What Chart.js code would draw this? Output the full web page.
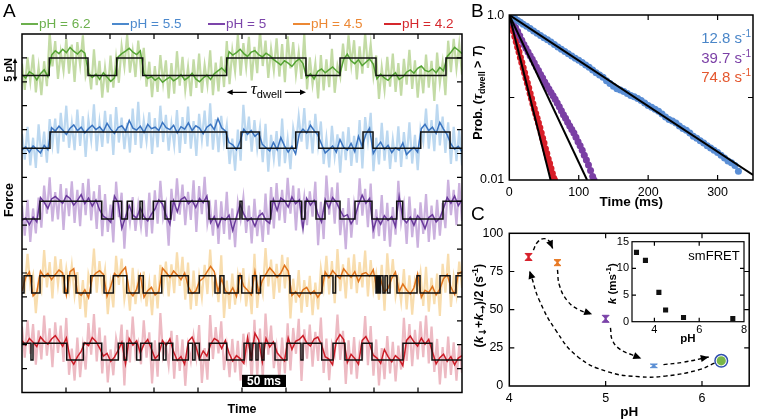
<!DOCTYPE html>
<html>
<head>
<meta charset="utf-8">
<script src="https://cdn.jsdelivr.net/npm/chart.js@4.4.1/dist/chart.umd.min.js"></script>
<style>
  body { margin: 0; background: #fff; }
  #wrap { position: relative; width: 757px; height: 419px; overflow: hidden; }
  canvas { position: absolute; }
  .tickLabel { position: absolute; font: 12.5px 'Liberation Sans', Arial, sans-serif; color: #000; text-align: right; line-height: 14px; }
</style>
</head>
<body>
<div id="wrap">
  <canvas id="chartA" width="470" height="419" style="left:0;top:0"></canvas>
  <canvas id="chartB" width="287" height="210" style="left:470px;top:0"></canvas>
  <canvas id="chartC" width="287" height="214" style="left:470px;top:205px"></canvas>
  <canvas id="chartInset" width="157" height="114" style="left:600px;top:232px"></canvas>
  <div id="bTopLabel" class="tickLabel" style="left:470px;top:9px;width:34px"></div>
</div>
<script>
// ---------- panel A: force traces ----------
const phLabels = ["pH = 6.2", "pH = 5.5", "pH = 5", "pH = 4.5", "pH = 4.2"];
const lowLevels = [66.3, 51.1, 36.3, 20.8, 6.8];   // pN
const highLevels = [70, 54.5, 40, 24.4, 10.3];     // pN
const startHigh = [false, false, false, false, true];

// switch times of the fitted two-state trace (ms)
const greenSwitch = [31.0, 75.0, 107.6, 137.2, 232.6, 322.7, 361.4, 402.3, 481.8];
const blueSwitch = [31.8, 232.6, 248.9, 269.9, 311.1, 337.3, 387.5, 398.9, 453.1, 486.4];
const purpleSwitch = [20.5, 90.6, 103.8, 113.3, 119.7, 125.3, 134.1, 136.7, 149.2, 162.5, 169.0, 212.5, 247.7, 250.0,
  282.6, 317.8, 321.6, 334.1, 344.3, 361.4, 378.4, 397.7, 425.8, 432.6, 478.4];
const orangeSwitch = [2.3, 11.0, 20.5, 48.1, 52.0, 61.4, 78.1, 93.2, 103.8, 119.0, 133.0, 137.8, 158.8, 189.0, 201.5,
  219.3, 225.0, 229.5, 245.8, 249.7, 262.0, 266.5, 271.0, 304.5, 340.9, 353.4, 356.3, 402.3, 404.0, 405.7, 407.4,
  410.2, 412.5, 415.3, 418.2, 426.1, 448.9, 452.3, 475.0, 486.4, 493.2];
const redSwitch = [10.2, 12.5, 50.8, 69.7, 90.6, 109.4, 115.9, 119.0, 130.3, 134.9, 147.4, 156.0, 160.6, 163.6, 171.3,
  189.0, 194.0, 196.6, 201.5, 212.8, 232.6, 252.3, 259.1, 261.4, 265.9, 268.2, 272.7, 275.0, 287.5, 301.1, 317.0,
  319.3, 340.6, 353.4, 367.0, 386.4, 397.7, 432.9, 465.9];

// raw (light) traces, deviation from the fitted level, 0.1 pN
const greenRaw = [25,-30,38,-12,44,-35,18,-41,30,-22,52,-18,35,-44,12,-27,40,-33,28,-50,
  33,-15,47,-38,21,-29,55,-20,31,-46,16,-35,42,-25,37,-52,24,-18,49,-31,
  14,-40,36,-27,58,-23,29,-45,20,-34,43,-16,32,-48,26,-38,51,-21,39,-30,
  18,-43,34,-26,46,-36,22,-19,53,-41,27,-33,40,-24,35,-55,15,-28,48,-37,
  31,-20,44,-47,23,-32,57,-17,36,-42,19,-26,41,-39,29,-51,45,-22,33,-35,
  12,-44,50,-29,38,-18,25,-48,43,-31,34,-24,56,-36,21,-40,30,-27,47,-15,
  37,-45,24,-33,52,-21,28,-38,42,-49,17,-30,39,-23,46,-34,26,-42,35,-19,
  54,-28,32,-46,20,-37,44,-25,31,-53,48,-16,27,-41,36,-30,40,-22,29,-35];
const blueRaw = [30,-24,45,-36,22,-41,50,-18,35,-30,61,-27,28,-45,40,-20,55,-33,18,-38,
  47,-29,33,-52,26,-17,58,-40,21,-31,44,-24,37,-48,52,-22,30,-36,19,-43,
  49,-27,63,-34,24,-19,41,-46,29,-32,55,-21,36,-39,17,-28,46,-44,31,-25,
  53,-35,23,-50,38,-16,45,-30,60,-37,27,-42,34,-23,48,-33,20,-47,39,-26,
  57,-18,32,-41,25,-35,43,-29,51,-49,28,-22,36,-38,62,-31,19,-44,42,-27,
  33,-20,50,-36,24,-45,38,-28,56,-33,21,-40,47,-17,29,-51,35,-25,44,-37,
  26,-30,59,-42,31,-19,40,-48,22,-34,53,-26,37,-43,18,-29,46,-39,34,-23,
  54,-32,28,-46,41,-21,49,-35,25,-40,58,-28,32,-44,20,-33,45,-27,38,-36];
const purpleRaw = [28,-35,40,-48,22,-30,45,-55,33,-26,50,-42,19,-38,36,-60,27,-31,42,-45,
  24,-52,38,-29,47,-40,21,-58,34,-36,52,-27,30,-49,41,-33,18,-62,37,-44,
  46,-25,29,-53,39,-37,55,-30,23,-47,43,-34,31,-56,26,-41,48,-28,35,-50,
  20,-39,44,-64,32,-27,51,-46,25,-35,40,-52,37,-31,57,-43,22,-59,34,-38,
  45,-29,28,-51,42,-36,19,-48,53,-33,30,-57,38,-40,24,-45,49,-26,33,-61,
  27,-37,46,-50,21,-32,41,-55,36,-42,54,-28,29,-47,39,-34,23,-63,44,-39,
  31,-49,48,-30,26,-54,37,-41,20,-36,50,-46,34,-58,25,-33,43,-44,30,-52,
  47,-38,22,-60,35,-31,52,-48,28,-43,40,-35,33,-56,45,-29,24,-50,38,-41];
const orangeRaw = [33,-27,46,-20,38,-42,25,-31,54,-24,29,-47,41,-18,35,-36,50,-29,22,-40,
  44,-33,27,-51,39,-22,57,-35,31,-26,48,-44,20,-30,42,-19,36,-49,26,-37,
  53,-23,34,-41,45,-28,21,-46,38,-32,59,-25,30,-43,24,-36,49,-21,40,-50,
  28,-34,47,-27,35,-45,23,-38,55,-30,32,-19,43,-52,26,-33,41,-24,37,-40,
  52,-28,21,-44,46,-31,29,-37,58,-22,34,-48,25,-35,44,-26,39,-53,30,-20,
  48,-41,27,-29,36,-46,22,-34,51,-25,42,-39,31,-21,56,-32,24,-47,38,-28,
  45,-36,29,-24,53,-43,33,-30,40,-50,23,-37,47,-26,35,-42,28,-18,50,-34,
  37,-45,26,-31,43,-27,55,-39,32,-23,41,-48,25,-35,46,-29,34,-40,30,-25];
const redRaw = [35,-30,48,-22,40,-45,27,-34,58,-26,31,-50,44,-20,37,-39,53,-31,24,-43,
  47,-36,29,-55,42,-24,61,-38,33,-28,51,-47,22,-32,45,-21,39,-53,28,-40,
  56,-25,36,-44,48,-30,23,-49,41,-35,63,-27,32,-46,26,-39,52,-23,43,-54,
  30,-37,50,-29,38,-48,25,-41,59,-33,34,-21,46,-56,28,-36,44,-26,40,-43,
  55,-31,23,-47,49,-34,31,-40,62,-24,37,-52,27,-38,47,-28,42,-57,32,-22,
  51,-44,29,-32,39,-49,24,-37,54,-27,45,-42,33,-23,60,-35,26,-50,41,-30,
  48,-39,31,-26,57,-46,36,-33,43,-53,25,-40,50,-28,38,-45,30,-20,53,-37,
  40,-48,28,-34,46,-29,58,-42,35,-25,44,-51,27,-38,49,-31,37,-43,32,-27];

// smoothed (dark) traces, deviation from the fitted level, 0.1 pN
const greenSmooth = [2,-5,8,3,-9,4,12,-2,6,15,9,18,11,22,14,8,16,10,5,-4,
  3,-8,6,-3,-12,-5,2,9,14,20,12,7,15,4,-6,-2,-10,-4,-14,-8,
  -3,-11,-6,2,-9,-4,5,-7,-13,-5,1,-8,4,10,16,8,13,6,11,18,
  9,3,12,15,7,2,10,5,-3,-9,-15,-6,-11,-18,-8,-2,-12,-5,4,-7,
  9,14,6,12,18,10,4,-3,8,-6,-12,-4,-16,-9,-2,-13,-7,3,-5,-10,
  -1,6,-8,-3,7,12,5,15,20,11,8,14,6,17,10,3,12,22,16,9];
const blueSmooth = [-4,3,-8,5,-2,-10,6,-3,9,2,12,4,-5,8,15,3,10,-2,7,14,
  5,11,1,18,6,-3,9,13,2,24,8,4,12,-1,16,7,10,3,20,9,
  5,14,-2,11,6,19,3,13,8,-4,10,16,5,28,9,2,12,7,-3,15,
  6,-5,3,-9,-2,8,1,-6,12,-3,22,5,-8,4,-12,-4,6,-2,14,3,
  -6,9,-10,-3,5,-8,18,2,-4,10,-7,25,4,-5,8,-11,3,13,-2,6,
  -9,1,-4,11,-13,-5,2,-8,7,16,3,10,-3,20,6,-6,9,-2,4,-7];
const purpleSmooth = [-3,2,-12,4,-6,8,-2,-15,5,10,3,-4,12,6,-8,2,14,-5,7,-10,
  3,-18,6,1,-7,11,-3,-20,4,-9,8,2,-14,5,-4,10,-16,3,-6,7,
  -11,1,-22,4,9,-5,2,-13,6,-3,11,-8,5,-17,3,-2,8,-24,4,-7,
  10,-4,2,-15,6,12,-3,-9,4,-19,7,1,-12,9,-5,3,-21,6,-8,2,
  11,-6,4,-14,8,-2,-18,5,9,-10,3,-7,13,-4,6,-23,2,-11,7,-3,
  5,-16,10,1,-8,4,-13,7,-2,-20,3,9,-6,2,-15,8,-4,11,-9,3];
const orangeSmooth = [4,-3,8,-6,2,10,-2,5,-8,3,12,6,-4,9,15,2,-5,7,-10,-3,
  6,11,3,-7,14,5,-2,9,18,4,-6,8,1,-9,5,12,-4,3,16,7,
  -3,10,2,-8,6,13,-1,4,-11,-5,8,20,9,3,-6,5,-2,11,-7,2,
  14,6,-4,9,1,-10,4,17,8,-3,6,22,10,-5,3,-8,7,12,-2,5,
  -9,3,8,-4,11,2,-6,15,5,-3,9,-12,4,7,-1,13,6,-7,2,10,
  -5,8,3,19,7,-2,11,4,-9,6,1,14,-4,8,-6,3,12,-3,5,9];
const redSmooth = [6,-4,10,2,-7,13,4,-2,9,16,5,-6,11,3,-9,7,18,1,-5,12,
  4,-10,8,14,-3,6,20,2,-8,10,-4,5,15,-2,8,-12,3,11,6,-5,
  9,17,-1,7,-9,4,13,-6,2,19,8,-3,10,5,-11,6,14,-2,9,3,
  -7,12,5,21,7,-4,10,-8,3,15,6,-2,11,-13,4,8,16,1,-6,9,
  13,-3,7,2,-10,5,18,8,-5,12,3,-9,6,14,-1,10,4,-7,22,7,
  -4,9,2,-12,6,15,3,-6,11,-2,8,17,-8,5,12,-3,7,-10,4,9];

const switchTimes = [greenSwitch, blueSwitch, purpleSwitch, orangeSwitch, redSwitch];
const rawTraces = [greenRaw, blueRaw, purpleRaw, orangeRaw, redRaw];
const smoothTraces = [greenSmooth, blueSmooth, purpleSmooth, orangeSmooth, redSmooth];
const timeTicksA = [50, 100, 150, 200, 250, 300, 350, 400, 450];
const forceTicksA = [5, 10, 15, 20, 25, 30, 35, 40, 45, 50, 55, 60, 65, 70];

// ---------- panel B: dwell-time survival ----------
const bBlueT = [0,4,8,12,16,20,25,30,35,40,45,50,55,60,65,70,75,80,85,90,95,100,105,110,115,120,125,130,135,140,
  145,150,155,160,165,170,175,180,185,190,195,200,205,210,215,220,225,230,235,240,245,250,255,260,265,270,275,280,
  285,290,295,300,305,310,315,320,325,330];
const bBlueP = [1.0,0.955,0.905,0.86,0.815,0.775,0.73,0.685,0.64,0.60,0.565,0.53,0.50,0.47,0.44,0.41,0.385,0.36,0.34,
  0.318,0.30,0.282,0.265,0.248,0.232,0.216,0.20,0.188,0.176,0.16,0.148,0.137,0.128,0.123,0.118,0.112,0.106,0.102,
  0.097,0.092,0.086,0.080,0.076,0.072,0.068,0.063,0.058,0.054,0.052,0.049,0.045,0.042,0.040,0.037,0.034,0.032,0.030,
  0.028,0.026,0.0245,0.023,0.0215,0.020,0.0185,0.017,0.0162,0.015,0.0128];
const bPurpleT = [0,3,6,9,12,15,18,21,24,27,30,33,36,39,42,45,48,51,54,57,60,63,66,69,72,75,78,81,84,87,90,93,96,99,
  102,105,108,111,114,117,120,122];
const bPurpleP = [1.0,0.89,0.79,0.70,0.63,0.56,0.495,0.44,0.395,0.355,0.32,0.29,0.262,0.235,0.212,0.19,0.172,0.154,
  0.14,0.127,0.115,0.105,0.095,0.086,0.077,0.069,0.062,0.056,0.05,0.045,0.041,0.037,0.033,0.029,0.026,0.023,0.02,
  0.0175,0.0152,0.013,0.011,0.0100];
const bRedT = [0,2,4,6,8,10,12,14,16,18,20,22,24,26,28,30,32,34,36,38,40,42,44,46,48,50,52,54,56,58,60,62,64,65];
const bRedP = [1.0,0.86,0.74,0.64,0.55,0.475,0.41,0.355,0.305,0.265,0.23,0.20,0.172,0.15,0.13,0.112,0.097,0.084,
  0.073,0.064,0.056,0.049,0.043,0.037,0.032,0.028,0.024,0.021,0.018,0.0158,0.0138,0.012,0.0105,0.0100];
const fitEndT = [351, 112, 59.5];
const fitEndP = [0.0115, 0.01, 0.01];
const rateLabels = ["12.8", "39.7", "74.8"];
const bTimeTicks = [0, 100, 200, 300];
const bProbTicks = [0.01, 0.1, 1];
const bProbLabels = ["0.01", "", "1.0"];

// ---------- panel C: mean rate vs pH ----------
const cPH = [4.2, 4.5, 5.0, 5.5, 6.2];
const cRate = [84.5, 80.8, 44, 13.2, 16.5];
const cErr = [2.3, 2.0, 2.3, 1.2, 1.5];
const cArrows = [
  [[4.25, 89], [4.29, 94], [4.36, 96.5], [4.42, 94.5], [4.45, 90]],
  [[4.5, 76], [4.52, 66], [4.6, 56], [4.72, 50], [4.86, 47]],
  [[5.05, 38], [5.07, 30], [5.15, 24], [5.27, 20.5], [5.37, 18]],
  [[5.6, 14], [5.8, 15.5], [6.07, 19]],
  [[6.13, 15], [5.96, 10.5], [5.62, 6.5], [5.35, 6.1], [5.02, 9.4], [4.71, 19.2], [4.48, 36.7], [4.31, 56.3],
    [4.23, 71.6], [4.21, 75.5]]
];
const cPHTicks = [4, 5, 6];
const cRateTicks = [0, 25, 50, 75, 100];

// inset: smFRET rates
const insetPH = [3.2, 3.6, 4.2, 4.5, 5.3, 7.5];
const insetK = [13, 11.5, 5.5, 2.2, 0.8, 0.6];
const insetPHTicks = [4, 6, 8];
const insetKTicks = [0, 5, 10, 15];

// ---------- styling ----------
const SANS = "'Liberation Sans', Arial, Helvetica, sans-serif";
Chart.defaults.font.family = SANS;
Chart.defaults.color = "#000";
const rawColors = ["#c3dba5", "#bcd8f0", "#cbb1de", "#f8ddae", "#edbac3"];
const smoothColors = ["#55a334", "#3a74c0", "#6a3a9b", "#e0741c", "#cc1c27"];
const textColors = ["#6cb04d", "#4c89cd", "#7c45aa", "#ec8834", "#d5282d"];
const bColors = ["#5a8ed5", "#7a3fa4", "#d71e28"];
const rateColors = ["#4a86c8", "#7b3fa6", "#e4572e"];
const cColors = ["#d7202b", "#e87a26", "#7a42a8", "#5b8fd4", "#78b648"];

const stateAt = (switches, up, t) => {
  for (const s of switches) {
    if (t >= s) up = !up;
    else break;
  }
  return up;
};

function drawRich(ctx, parts, x, y, opts = {}) {
  ctx.save();
  ctx.translate(x, y);
  if (opts.rotate) ctx.rotate(-Math.PI / 2);
  let total = 0;
  parts.forEach((p) => { ctx.font = p.f; total += ctx.measureText(p.t).width; });
  let cx = opts.align === "right" ? -total : opts.align === "left" ? 0 : -total / 2;
  ctx.textBaseline = "alphabetic";
  ctx.textAlign = "left";
  parts.forEach((p) => {
    ctx.font = p.f;
    ctx.fillStyle = p.c || opts.color || "#000";
    ctx.fillText(p.t, cx, p.dy || 0);
    cx += ctx.measureText(p.t).width;
  });
  ctx.restore();
}

function drawBox(chart, xTicks, yTicks, len, lw) {
  const { ctx, chartArea: a, scales } = chart;
  ctx.save();
  ctx.strokeStyle = "#000";
  ctx.lineWidth = lw;
  ctx.strokeRect(a.left, a.top, a.right - a.left, a.bottom - a.top);
  ctx.lineWidth = 1.2;
  ctx.beginPath();
  xTicks.forEach((v) => {
    const x = scales.x.getPixelForValue(v);
    ctx.moveTo(x, a.bottom); ctx.lineTo(x, a.bottom - len);
    ctx.moveTo(x, a.top); ctx.lineTo(x, a.top + len);
  });
  yTicks.forEach((v) => {
    const y = scales.y.getPixelForValue(v);
    ctx.moveTo(a.left, y); ctx.lineTo(a.left + len, y);
    ctx.moveTo(a.right, y); ctx.lineTo(a.right - len, y);
  });
  ctx.stroke();
  ctx.restore();
}

function arrowHead(ctx, x, y, fromX, fromY, size) {
  const ang = Math.atan2(y - fromY, x - fromX);
  ctx.beginPath();
  ctx.moveTo(x, y);
  ctx.lineTo(x - size * Math.cos(ang) + size * 0.45 * Math.sin(ang), y - size * Math.sin(ang) - size * 0.45 * Math.cos(ang));
  ctx.lineTo(x - size * Math.cos(ang) - size * 0.45 * Math.sin(ang), y - size * Math.sin(ang) + size * 0.45 * Math.cos(ang));
  ctx.closePath();
  ctx.fill();
}

// ---------- chart A ----------
const datasetsA = [];
phLabels.forEach((label, k) => {
  const level = (up) => (up ? highLevels[k] : lowLevels[k]);
  const sw = switchTimes[k];
  const raw = rawTraces[k].map((d, i, arr) => {
    const t = (i * 500) / (arr.length - 1);
    return { x: t, y: level(stateAt(sw, startHigh[k], t)) + d / 10 };
  });
  const smooth = smoothTraces[k].map((d, i, arr) => {
    const t = (i * 500) / (arr.length - 1);
    return { x: t, y: level(stateAt(sw, startHigh[k], t)) + d / 10 };
  });
  let up = startHigh[k];
  const steps = [{ x: 0, y: level(up) }];
  sw.forEach((t) => { up = !up; steps.push({ x: t, y: level(up) }); });
  steps.push({ x: 500, y: level(up) });

  datasetsA.push({ label: label + " raw", data: raw, borderColor: rawColors[k], borderWidth: 2.2, order: 2 });
  datasetsA.push({ label: label, data: smooth, borderColor: smoothColors[k], borderWidth: 1.5, order: 1 });
  datasetsA.push({ label: label + " fit", data: steps, borderColor: "#111", borderWidth: 1.5, stepped: "before", order: 0 });
});

const panelA = {
  id: "panelA",
  afterDraw(chart) {
    const { ctx, chartArea: a, scales: { x, y } } = chart;
    drawBox(chart, timeTicksA, forceTicksA, 5, 1.5);
    ctx.save();
    // panel letter
    ctx.font = "19px " + SANS;
    ctx.fillStyle = "#000";
    ctx.textBaseline = "middle";
    ctx.fillText("A", 3, 12);
    // legend
    const legendX = [21, 112, 208, 293, 384];
    phLabels.forEach((lab, k) => {
      ctx.strokeStyle = textColors[k];
      ctx.lineWidth = 2;
      ctx.beginPath();
      ctx.moveTo(legendX[k], 24);
      ctx.lineTo(legendX[k] + 17, 24);
      ctx.stroke();
      ctx.font = "13.5px " + SANS;
      ctx.fillStyle = textColors[k];
      ctx.textAlign = "left";
      ctx.fillText(lab, legendX[k] + 18, 24.5);
    });
    // 5 pN scale arrow
    const y1 = y.getPixelForValue(70), y0 = y.getPixelForValue(65);
    const ax = a.left - 7;
    ctx.strokeStyle = "#000";
    ctx.fillStyle = "#000";
    ctx.lineWidth = 1.3;
    ctx.beginPath(); ctx.moveTo(ax, y1 + 3); ctx.lineTo(ax, y0 - 3); ctx.stroke();
    arrowHead(ctx, ax, y1, ax, y1 + 10, 5);
    arrowHead(ctx, ax, y0, ax, y0 - 10, 5);
    drawRich(ctx, [{ t: "5 pN", f: "bold 11px " + SANS }], 12, (y0 + y1) / 2, { rotate: true });
    drawRich(ctx, [{ t: "Force", f: "bold 12.5px " + SANS }], 13, 200, { rotate: true });
    drawRich(ctx, [{ t: "Time", f: "bold 12.5px " + SANS }], (a.left + a.right) / 2, 413);
    // 50 ms scale bar
    const sx0 = x.getPixelForValue(250), sx1 = x.getPixelForValue(300);
    const sy0 = y.getPixelForValue(3.7), sy1 = y.getPixelForValue(1.15);
    ctx.fillStyle = "#000";
    ctx.fillRect(sx0, sy0, sx1 - sx0, sy1 - sy0);
    ctx.fillStyle = "#fff";
    ctx.font = "bold 12px " + SANS;
    ctx.textAlign = "center";
    ctx.fillText("50 ms", (sx0 + sx1) / 2, (sy0 + sy1) / 2 + 0.5);
    // tau dwell arrow
    const tx0 = x.getPixelForValue(greenSwitch[4]), tx1 = x.getPixelForValue(greenSwitch[5]);
    const ty = y.getPixelForValue(62.8);
    const mid = (tx0 + tx1) / 2;
    ctx.font = "italic 17px 'Liberation Serif', serif";
    const w1 = ctx.measureText("\u03c4").width;
    ctx.font = "11px " + SANS;
    const w2 = ctx.measureText("dwell").width;
    const gl = mid - (w1 + w2) / 2 - 4, gr = mid + (w1 + w2) / 2 + 3;
    ctx.strokeStyle = "#000";
    ctx.fillStyle = "#000";
    ctx.lineWidth = 1.3;
    ctx.beginPath();
    ctx.moveTo(tx0 + 4, ty); ctx.lineTo(gl, ty);
    ctx.moveTo(gr, ty); ctx.lineTo(tx1 - 4, ty);
    ctx.stroke();
    arrowHead(ctx, tx0, ty, tx0 + 10, ty, 6);
    arrowHead(ctx, tx1, ty, tx1 - 10, ty, 6);
    drawRich(ctx, [
      { t: "\u03c4", f: "italic 17px 'Liberation Serif', serif", dy: 2 },
      { t: "dwell", f: "11px " + SANS, dy: 6 }
    ], mid, ty);
    ctx.restore();
  }
};

new Chart(document.getElementById("chartA"), {
  type: "line",
  data: { datasets: datasetsA },
  options: {
    responsive: false,
    animation: false,
    layout: { padding: { left: 22, top: 34, right: 8, bottom: 26.5 } },
    plugins: { legend: { display: false }, tooltip: { enabled: false } },
    elements: { point: { radius: 0 }, line: { tension: 0 } },
    scales: {
      x: { type: "linear", min: 0, max: 500, display: false },
      y: { type: "linear", min: 0, max: 75, display: false }
    }
  },
  plugins: [panelA]
});

// ---------- chart B ----------
const pairs = (xs, ys) => xs.map((v, i) => ({ x: v, y: ys[i] }));
const dotSet = (xs, ys, color) => ({
  type: "scatter", data: pairs(xs, ys), backgroundColor: color, borderWidth: 0, pointRadius: 3.5, order: 2
});
const fitSet = (i) => ({
  type: "line", data: [{ x: 0, y: 1 }, { x: fitEndT[i], y: fitEndP[i] }], borderColor: "#000",
  borderWidth: 2, pointRadius: 0, order: 0
});

const panelB = {
  id: "panelB",
  afterDraw(chart) {
    const { ctx, chartArea: a, scales: { y } } = chart;
    drawBox(chart, [100, 200, 300], [0.1], 5, 1.5);
    ctx.save();
    ctx.font = "19px " + SANS;
    ctx.fillStyle = "#000";
    ctx.textBaseline = "middle";
    ctx.textAlign = "left";
    ctx.fillText("B", 1, 12);
    rateLabels.forEach((r, i) => {
      drawRich(ctx, [
        { t: r + " s", f: "15px " + SANS },
        { t: "-1", f: "10px " + SANS, dy: -6 }
      ], 281, 43 + i * 19.5, { align: "right", color: rateColors[i] });
    });
    drawRich(ctx, [{ t: "Time (ms)", f: "bold 13.5px " + SANS }], (a.left + a.right) / 2, 206);
    drawRich(ctx, [
      { t: "Prob. (", f: "bold 12.5px " + SANS },
      { t: "\u03c4", f: "bold italic 14px 'Liberation Serif', serif" },
      { t: "dwell", f: "bold 9px " + SANS, dy: 3 },
      { t: " > ", f: "bold 12.5px " + SANS },
      { t: "T", f: "bold italic 12.5px " + SANS },
      { t: ")", f: "bold 12.5px " + SANS }
    ], 12, (a.top + a.bottom) / 2 - 5, { rotate: true });
    ctx.restore();
    // top decade label of the log axis, placed on the page at the axis pixel
    const lab = document.getElementById("bTopLabel");
    lab.textContent = bProbLabels[2];
    lab.style.top = (y.getPixelForValue(bProbTicks[2]) - 7) + "px";
    lab.style.width = (a.left - 5) + "px";
  }
};

new Chart(document.getElementById("chartB"), {
  type: "scatter",
  data: {
    datasets: [
      dotSet(bBlueT, bBlueP, bColors[0]),
      dotSet(bPurpleT, bPurpleP, bColors[1]),
      dotSet(bRedT, bRedP, bColors[2]),
      fitSet(0), fitSet(1), fitSet(2)
    ]
  },
  options: {
    responsive: false,
    animation: false,
    layout: { padding: { left: 0, top: 15, right: 1, bottom: 0 } },
    plugins: { legend: { display: false }, tooltip: { enabled: false } },
    scales: {
      x: {
        type: "linear", min: 0, max: 351,
        grid: { display: false, drawTicks: false }, border: { display: false },
        afterFit: (s) => { s.height = 30; },
        afterBuildTicks: (s) => { s.ticks = bTimeTicks.map((v) => ({ value: v })); },
        ticks: { padding: 5, maxRotation: 0, font: { size: 12.5 } }
      },
      y: {
        type: "logarithmic", min: 0.01, max: 1,
        grid: { display: false, drawTicks: false }, border: { display: false },
        afterFit: (s) => { s.width = 39.3; },
        afterBuildTicks: (s) => { s.ticks = bProbTicks.slice(0, 2).map((v) => ({ value: v })); },
        ticks: { padding: 5, font: { size: 12.5 }, callback: (v, i) => bProbLabels[i] }
      }
    }
  },
  plugins: [panelB]
});

// ---------- chart C ----------
const arrowSets = cArrows.map((path) => ({
  type: "line", data: path.map((p) => ({ x: p[0], y: p[1] })), borderColor: "#000", borderWidth: 1.4,
  borderDash: [4, 3], tension: 0.45, pointRadius: 0, order: 3, arrow: true
}));

const panelC = {
  id: "panelC",
  afterDatasetsDraw(chart) {
    const { ctx, scales: { x, y } } = chart;
    ctx.save();
    // hourglass error markers
    cPH.forEach((p, i) => {
      if (i === 4) return;
      const px = x.getPixelForValue(p);
      const top = y.getPixelForValue(cRate[i] + cErr[i]);
      const bot = y.getPixelForValue(cRate[i] - cErr[i]);
      ctx.fillStyle = cColors[i];
      ctx.strokeStyle = cColors[i];
      ctx.lineWidth = 1;
      ctx.beginPath();
      ctx.moveTo(px - 3.5, top); ctx.lineTo(px + 3.5, top);
      ctx.lineTo(px - 3.5, bot); ctx.lineTo(px + 3.5, bot);
      ctx.closePath();
      ctx.fill(); ctx.stroke();
    });
    // arrow heads at the end of each dashed path
    ctx.fillStyle = "#000";
    chart.data.datasets.forEach((ds, di) => {
      if (!ds.arrow) return;
      const pts = chart.getDatasetMeta(di).data;
      const last = pts[pts.length - 1];
      const prev = pts[pts.length - 2];
      const useCp = last.cp1x !== undefined && Math.hypot(last.cp1x - last.x, last.cp1y - last.y) > 1;
      arrowHead(ctx, last.x, last.y, useCp ? last.cp1x : prev.x, useCp ? last.cp1y : prev.y, 8);
    });
    ctx.restore();
  },
  afterDraw(chart) {
    const { ctx, chartArea: a } = chart;
    drawBox(chart, [5, 6], [25, 50, 75], 5, 1.5);
    ctx.save();
    ctx.font = "19px " + SANS;
    ctx.fillStyle = "#000";
    ctx.textBaseline = "middle";
    ctx.fillText("C", 1, 10);
    drawRich(ctx, [{ t: "pH", f: "bold 13.5px " + SANS }], (a.left + a.right) / 2, 211);
    drawRich(ctx, [
      { t: "(", f: "bold 12.5px " + SANS },
      { t: "k", f: "bold italic 12.5px " + SANS },
      { t: "\u2193", f: "bold 10px 'DejaVu Sans', sans-serif", dy: 3 },
      { t: "+", f: "bold 12.5px " + SANS },
      { t: "k", f: "bold italic 12.5px " + SANS },
      { t: "\u2192", f: "bold 10px 'DejaVu Sans', sans-serif", dy: 3 },
      { t: ")/2 (s", f: "bold 12.5px " + SANS },
      { t: "-1", f: "bold 9px " + SANS, dy: -5 },
      { t: ")", f: "bold 12.5px " + SANS }
    ], 13, (a.top + a.bottom) / 2 - 4, { rotate: true });
    ctx.restore();
  }
};

new Chart(document.getElementById("chartC"), {
  type: "scatter",
  data: {
    datasets: [
      { data: pairs(cPH.slice(0, 4), cRate.slice(0, 4)), backgroundColor: cColors.slice(0, 4), pointStyle: "rect", pointRadius: 1.5, borderWidth: 0, order: 1 },
      { data: [{ x: cPH[4], y: cRate[4] }], backgroundColor: cColors[4], pointRadius: 4.6, borderWidth: 0, order: 1 },
      { data: [{ x: cPH[4], y: cRate[4] }], backgroundColor: "rgba(0,0,0,0)", borderColor: "#2f4fae", pointRadius: 6.3, borderWidth: 1.5, order: 0 },
      ...arrowSets
    ]
  },
  options: {
    responsive: false,
    animation: false,
    layout: { padding: { left: 0, top: 28.3, right: 1, bottom: 0 } },
    plugins: { legend: { display: false }, tooltip: { enabled: false } },
    scales: {
      x: {
        type: "linear", min: 4, max: 6.49,
        grid: { display: false, drawTicks: false }, border: { display: false },
        afterFit: (s) => { s.height = 33; },
        afterBuildTicks: (s) => { s.ticks = cPHTicks.map((v) => ({ value: v })); },
        ticks: { padding: 5, maxRotation: 0, font: { size: 12.5 } }
      },
      y: {
        type: "linear", min: 0, max: 100,
        grid: { display: false, drawTicks: false }, border: { display: false },
        afterFit: (s) => { s.width = 39.3; },
        afterBuildTicks: (s) => { s.ticks = cRateTicks.map((v) => ({ value: v })); },
        ticks: { padding: 6, font: { size: 12.5 } }
      }
    }
  },
  plugins: [panelC]
});

// ---------- inset ----------
const panelInset = {
  id: "panelInset",
  beforeDraw(chart) {
    const { ctx, chartArea: a } = chart;
    ctx.save();
    ctx.fillStyle = "#fff";
    ctx.fillRect(a.left, a.top, a.right - a.left, a.bottom - a.top);
    ctx.restore();
  },
  afterDraw(chart) {
    const { ctx, chartArea: a } = chart;
    drawBox(chart, [4, 6], [5, 10], 4, 1.2);
    ctx.save();
    drawRich(ctx, [{ t: "smFRET", f: "13px " + SANS }], a.right - 30, 28);
    drawRich(ctx, [{ t: "pH", f: "bold 11.5px " + SANS }], (a.left + a.right) / 2, 110);
    drawRich(ctx, [
      { t: "k", f: "bold italic 11.5px " + SANS },
      { t: " (ms", f: "bold 11.5px " + SANS },
      { t: "-1", f: "bold 8px " + SANS, dy: -5 },
      { t: ")", f: "bold 11.5px " + SANS }
    ], 16, (a.top + a.bottom) / 2 + 2, { rotate: true });
    ctx.restore();
  }
};

new Chart(document.getElementById("chartInset"), {
  type: "scatter",
  data: {
    datasets: [{ data: pairs(insetPH, insetK), backgroundColor: "#111", pointStyle: "rect", pointRadius: 3.6, borderWidth: 0 }]
  },
  options: {
    responsive: false,
    animation: false,
    layout: { padding: { left: 0, top: 9.7, right: 13, bottom: 0 } },
    plugins: { legend: { display: false }, tooltip: { enabled: false } },
    scales: {
      x: {
        type: "linear", min: 3, max: 8,
        grid: { display: false, drawTicks: false }, border: { display: false },
        afterFit: (s) => { s.height = 24.3; },
        afterBuildTicks: (s) => { s.ticks = insetPHTicks.map((v) => ({ value: v })); },
        ticks: { padding: 2, maxRotation: 0, font: { size: 11 } }
      },
      y: {
        type: "linear", min: 0, max: 15,
        grid: { display: false, drawTicks: false }, border: { display: false },
        afterFit: (s) => { s.width = 32; },
        afterBuildTicks: (s) => { s.ticks = insetKTicks.map((v) => ({ value: v })); },
        ticks: { padding: 3, font: { size: 11 } }
      }
    }
  },
  plugins: [panelInset]
});
</script>
</body>
</html>
